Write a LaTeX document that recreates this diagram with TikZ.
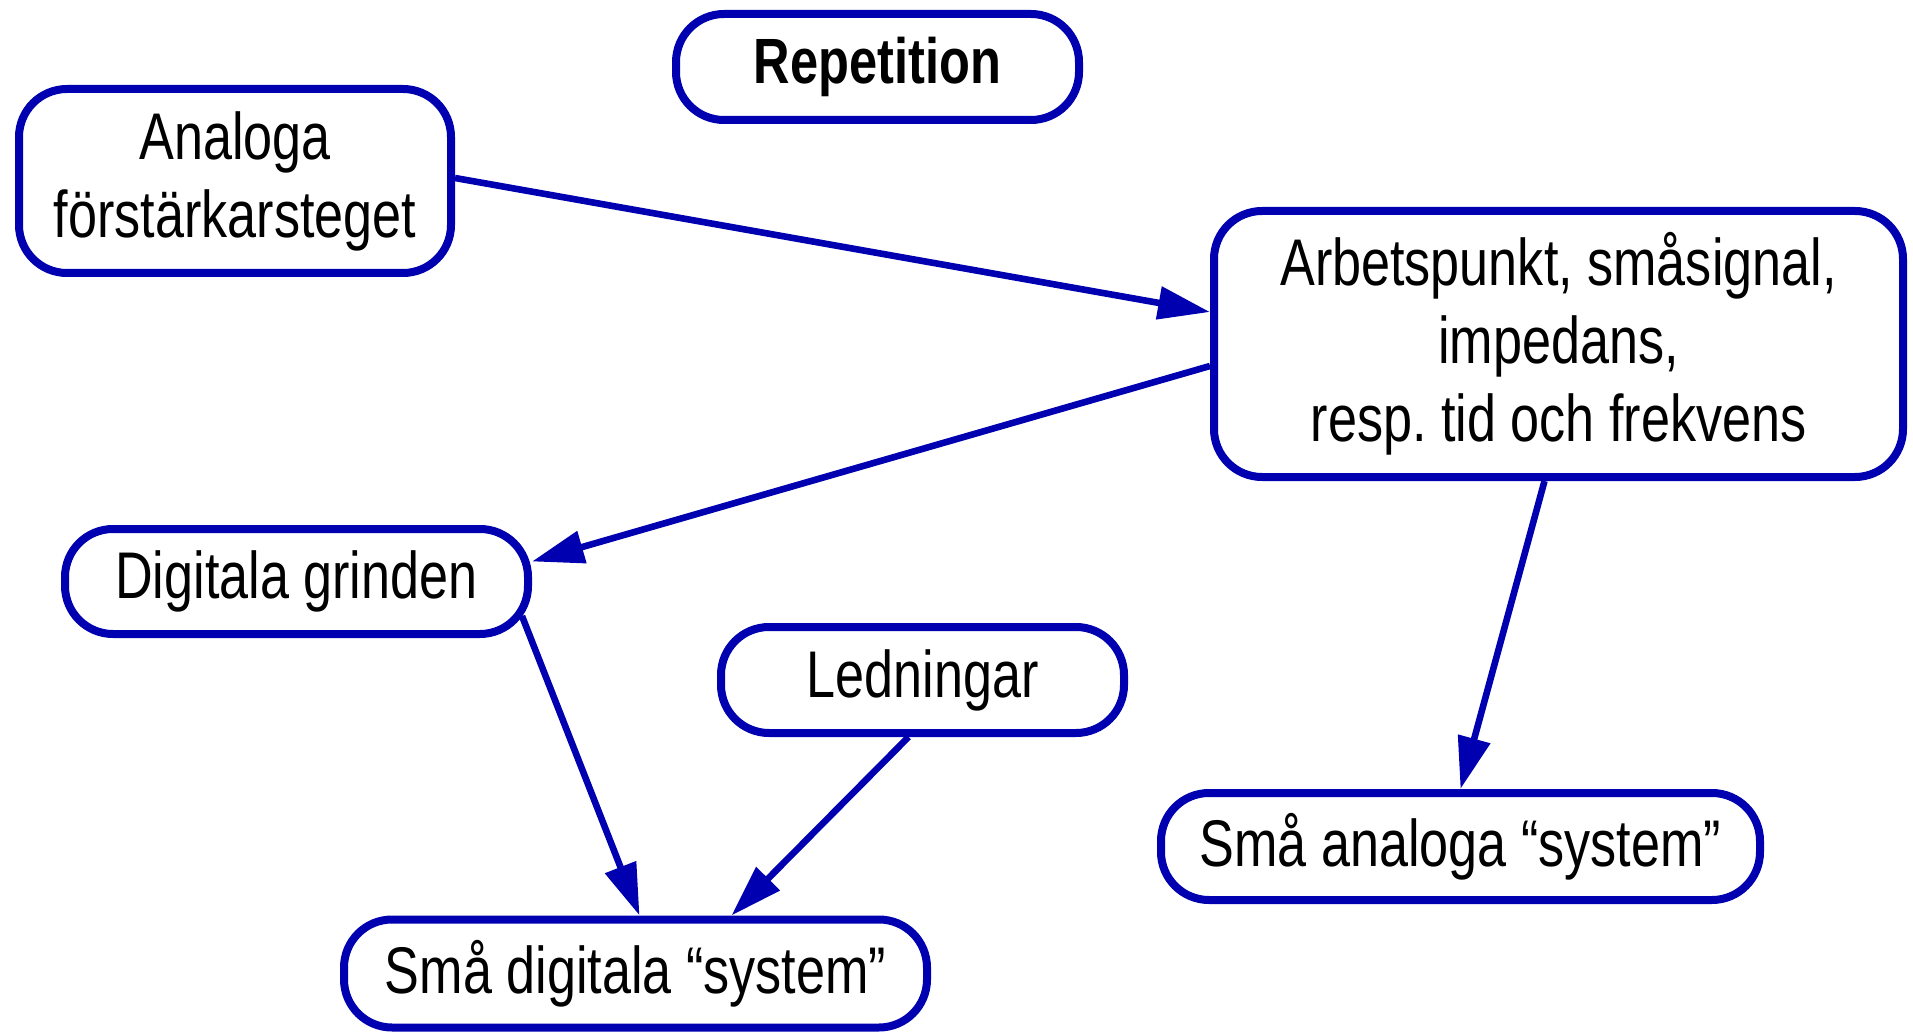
\documentclass[tikz,border=0pt]{standalone}
\usepackage{fontspec}
\setmainfont[FakeStretch=0.79]{Liberation Sans}
\usetikzlibrary{arrows.meta,calc}
\definecolor{dblue}{RGB}{0,0,176}
\frenchspacing
\begin{document}
\begin{tikzpicture}[x=0.5pt,y=-0.5pt,
  box/.style={draw=dblue,line width=4pt,rounded corners=24pt,fill=white,
    align=center,inner sep=0pt,font=\fontsize{33}{39}\selectfont},
  conn/.style={draw=dblue,line width=3.3pt,-{Triangle[length=26pt,width=16pt]}}]
\useasboundingbox (0,0) rectangle (1913,1032);
\node[box,minimum width=403pt/2,minimum height=106pt/2,font=\fontsize{32}{39}\selectfont\bfseries] (rep) at (877.5,67) {Repetition};
\node[box,minimum width=432pt/2,minimum height=184pt/2] (an) at (235,181) {Analoga\\förstärkarsteget};
\node[box,minimum width=689pt/2,minimum height=266pt/2] (arb) at (1558.5,344) {Arbetspunkt, småsignal,\\impedans,\\resp. tid och frekvens};
\node[box,minimum width=463pt/2,minimum height=105pt/2] (dig) at (296.5,581.5) {Digitala grinden};
\node[box,minimum width=403pt/2,minimum height=106pt/2] (led) at (922.5,680) {Ledningar};
\node[box,minimum width=599pt/2,minimum height=107pt/2] (sa) at (1460.5,846.5) {Små analoga “system”};
\node[box,minimum width=583pt/2,minimum height=108pt/2] (sd) at (635.5,973.5) {Små digitala “system”};
\draw[conn] ([yshift=1.5pt]an.east) -- ([yshift=16pt]arb.west);
\draw[conn] ([yshift=-11pt]arb.west) -- ([yshift=10pt]dig.east);
\draw[conn] ([xshift=-7pt]arb.south) -- (sa.north);
\draw[conn] ($(dig.south east)+(-10,-22)$) -- ([xshift=2pt]sd.north);
\draw[conn] ([xshift=-7pt]led.south) -- ([xshift=48pt]sd.north);
\end{tikzpicture}
\end{document}
